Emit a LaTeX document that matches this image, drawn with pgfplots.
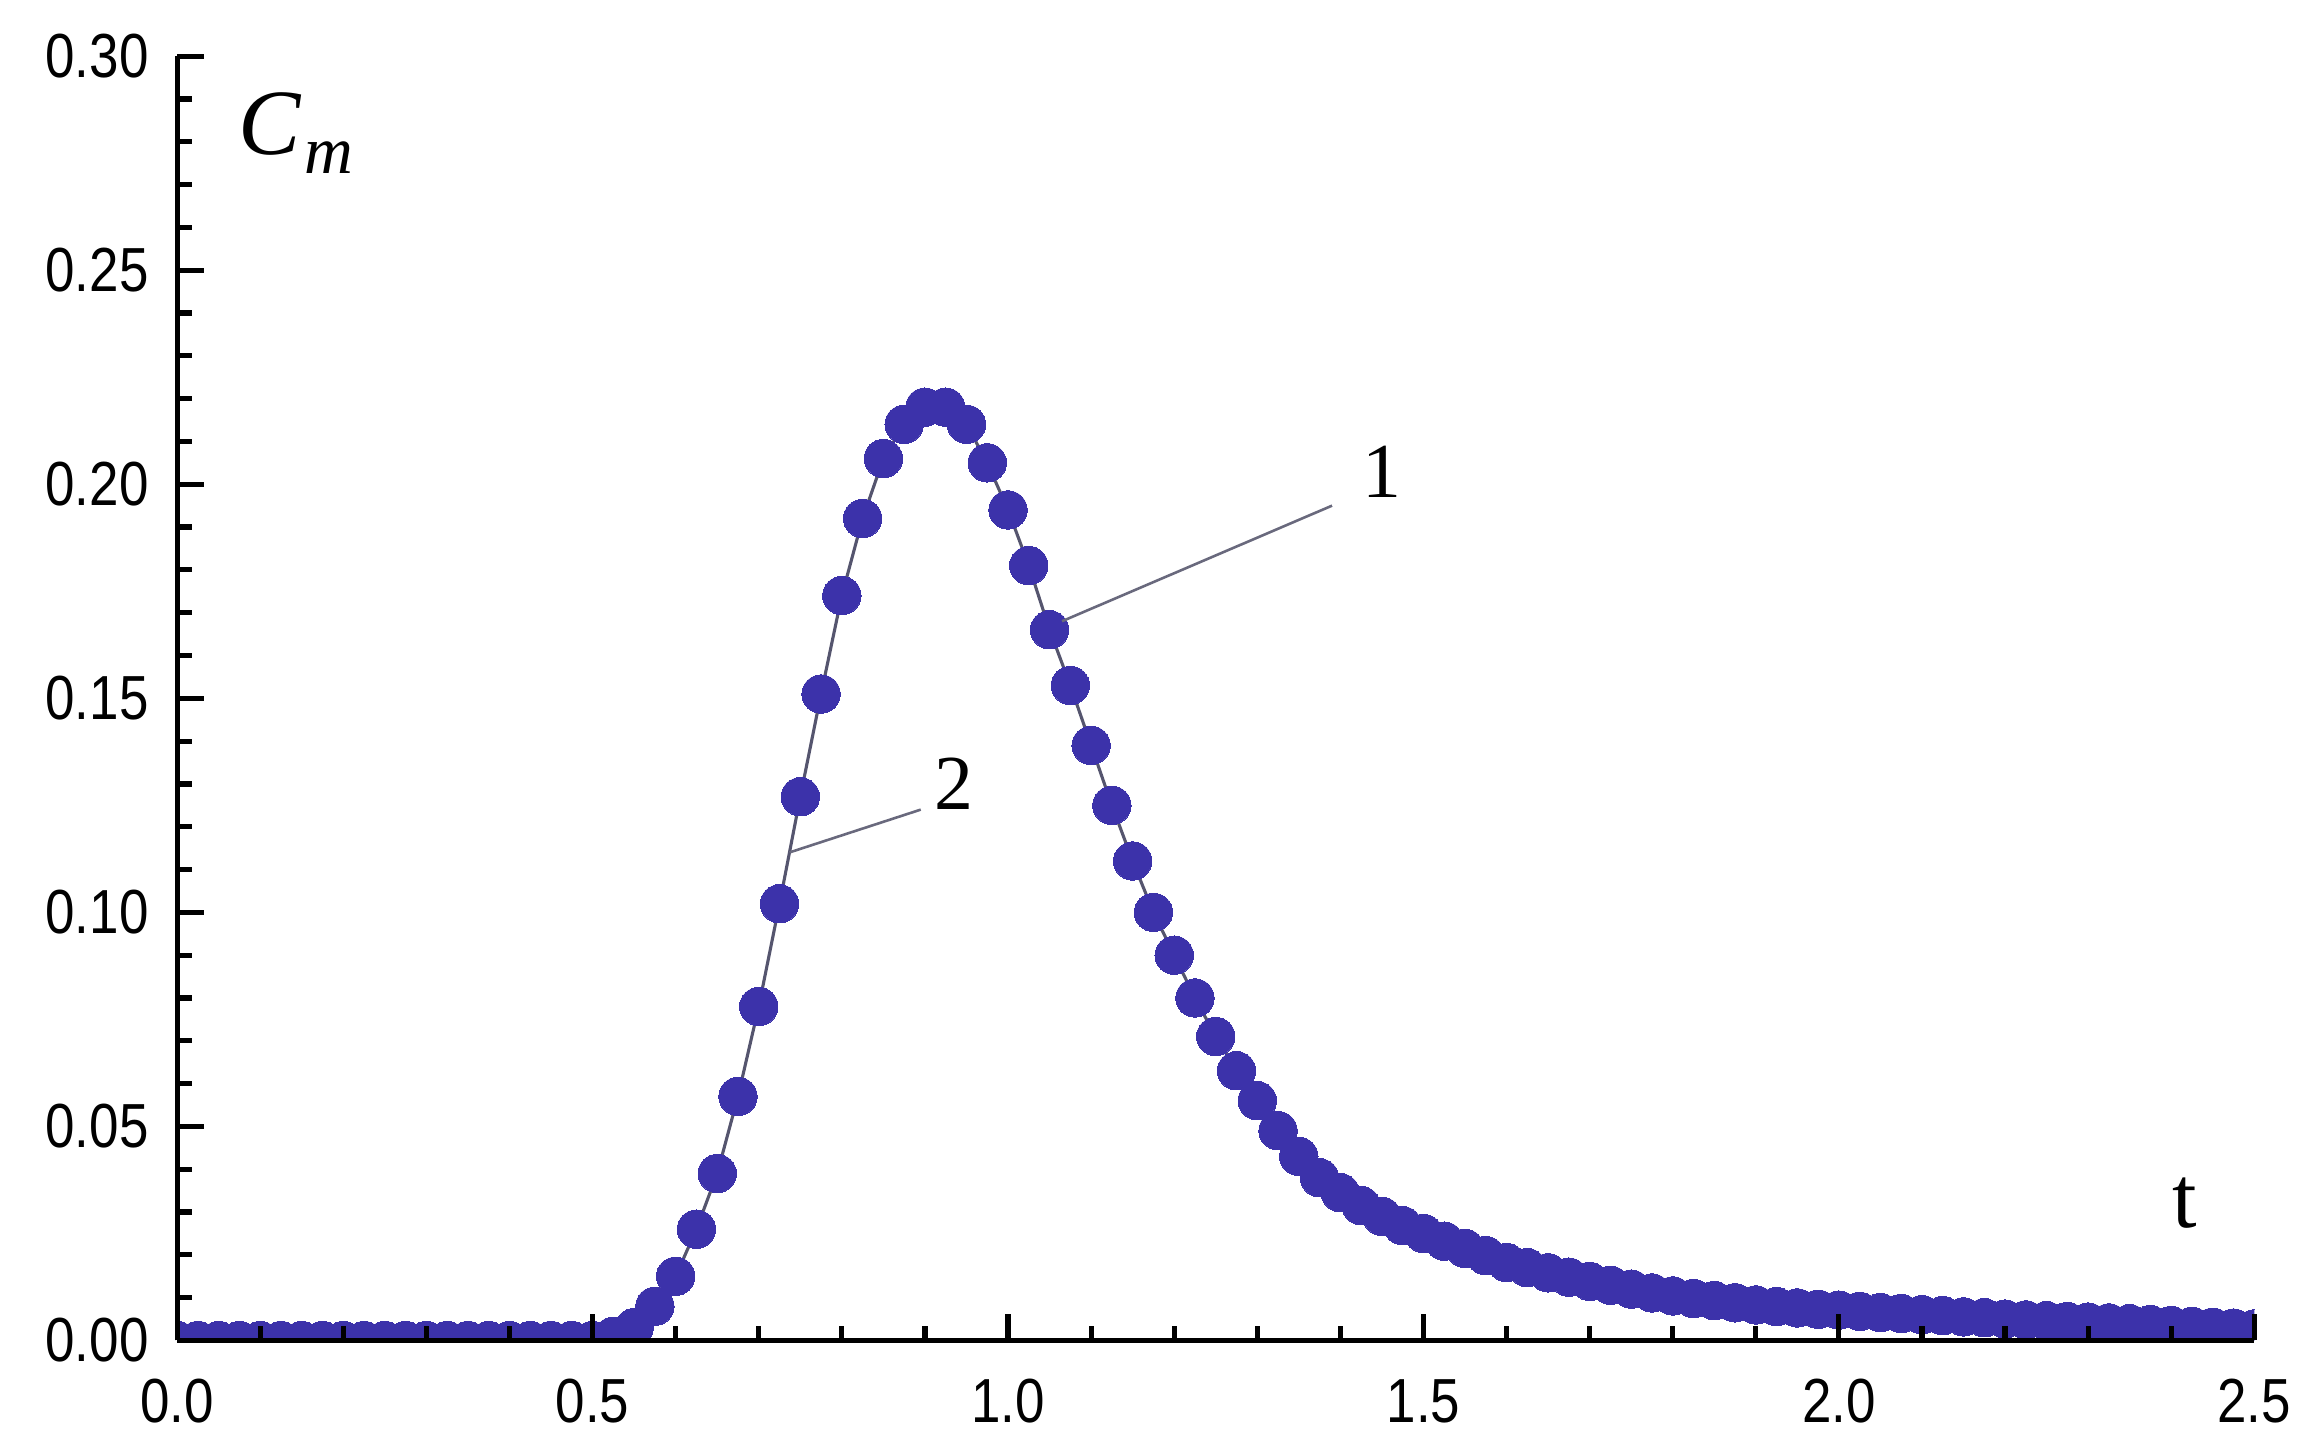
\documentclass[border=0pt]{standalone}
\usepackage{fontspec}
\setmainfont{Liberation Serif}
\newfontfamily\ticksans{Liberation Sans}[FakeStretch=0.85]
\usepackage{pgfplots}
\pgfplotsset{compat=1.18}
\usepackage{pgfplotstable}

\definecolor{dotblue}{RGB}{60,50,170}
\definecolor{linegray}{RGB}{85,85,110}
\definecolor{leadgray}{RGB}{105,105,125}

% C_m against t (step 0.025)
\pgfplotstableread{
t      cm
0.000  0
0.025  0
0.050  0
0.075  0
0.100  0
0.125  0
0.150  0
0.175  0
0.200  0
0.225  0
0.250  0
0.275  0
0.300  0
0.325  0
0.350  0
0.375  0
0.400  0
0.425  0
0.450  0
0.475  0
0.500  0
0.525  0.001
0.550  0.003
0.575  0.008
0.600  0.015
0.625  0.026
0.650  0.039
0.675  0.057
0.700  0.078
0.725  0.102
0.750  0.127
0.775  0.151
0.800  0.174
0.825  0.192
0.850  0.206
0.875  0.214
0.900  0.218
0.925  0.218
0.950  0.214
0.975  0.205
1.000  0.194
1.025  0.181
1.050  0.166
1.075  0.153
1.100  0.139
1.125  0.125
1.150  0.112
1.175  0.100
1.200  0.090
1.225  0.080
1.250  0.071
1.275  0.063
1.300  0.056
1.325  0.049
1.350  0.043
1.375  0.038
1.400  0.0345
1.425  0.0315
1.450  0.0290
1.475  0.0268
1.500  0.0250
1.525  0.0232
1.550  0.0215
1.575  0.0198
1.600  0.0182
1.625  0.0170
1.650  0.0158
1.675  0.0148
1.700  0.0138
1.725  0.0129
1.750  0.0120
1.775  0.0111
1.800  0.0104
1.825  0.0098
1.850  0.0093
1.875  0.0088
1.900  0.0083
1.925  0.0079
1.950  0.0076
1.975  0.0073
2.000  0.0071
2.025  0.0068
2.050  0.0065
2.075  0.0063
2.100  0.0060
2.125  0.0058
2.150  0.0055
2.175  0.0053
2.200  0.0050
2.225  0.0048
2.250  0.0046
2.275  0.0044
2.300  0.0043
2.325  0.0041
2.350  0.0039
2.375  0.0037
2.400  0.0035
2.425  0.0033
2.450  0.0031
2.475  0.0029
2.500  0.0027
}\cmdata

\begin{document}
\begin{tikzpicture}
\begin{axis}[
  scale only axis,
  width=140.7mm, height=87mm,
  xmin=0, xmax=2.5, ymin=0, ymax=0.3,
  axis lines=left,
  axis line style={-, line width=1pt, black},
  axis on top,
  clip marker paths=true,
  tick align=inside,
  xtick={0,0.5,1,1.5,2,2.5},
  ytick={0,0.05,0.1,0.15,0.2,0.25,0.3},
  minor x tick num=4, minor y tick num=4,
  major tick length=1.8mm, minor tick length=1mm,
  tick style={black, line width=1pt},
  /pgf/number format/assume math mode=true,
  ticklabel style={font=\fontsize{12}{14}\selectfont\ticksans},
  x tick label style={/pgf/number format/.cd, fixed, fixed zerofill, precision=1, /tikz/.cd, yshift=-1.4mm},
  y tick label style={/pgf/number format/.cd, fixed, fixed zerofill, precision=2, /tikz/.cd, xshift=-0.7mm},
]
  % curve 2: thin line through the points
  \addplot[linegray, line width=0.6pt, no marks] table {\cmdata};
  % curve 1: points
  \addplot[only marks, mark=*, mark size=3.7pt,
    mark options={draw=dotblue, fill=dotblue, line width=0pt}] table {\cmdata};

  % leaders and labels
  \draw[leadgray, line width=0.5pt] (axis cs:1.065,0.168) -- (axis cs:1.39,0.195);
  \node[font=\fontsize{15}{15}\selectfont] at (axis cs:1.45,0.203) {1};
  \draw[leadgray, line width=0.5pt] (axis cs:0.737,0.114) -- (axis cs:0.895,0.124);
  \node[font=\fontsize{15}{15}\selectfont] at (axis cs:0.935,0.130) {2};

  \node[font=\fontsize{18}{18}\selectfont\itshape] at (axis cs:0.143,0.282)
    {C\kern0.04em\raisebox{-0.45ex}{\fontsize{13}{13}\selectfont m}};
  \node[font=\fontsize{17}{17}\selectfont] at (axis cs:2.416,0.032) {t};
\end{axis}
\pgfresetboundingbox
\useasboundingbox (-12mm,-6.7mm) rectangle (144mm,90.8mm);
\end{tikzpicture}
\end{document}
